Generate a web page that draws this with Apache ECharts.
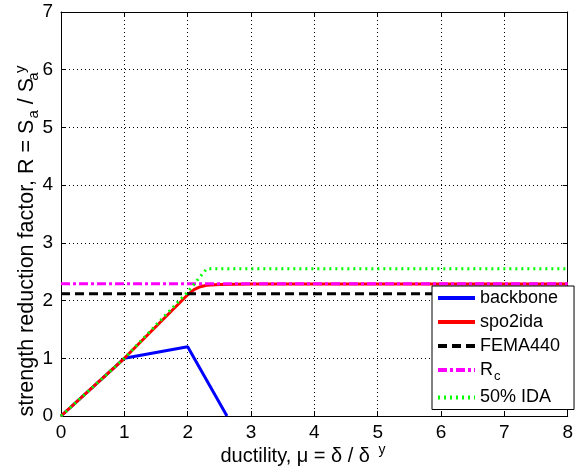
<!DOCTYPE html>
<html>
<head>
  <meta charset="UTF-8">
  <title>strength reduction factor</title>
  <script src="https://cdn.jsdelivr.net/npm/echarts@6/dist/echarts.min.js"></script>
</head>
<body style="margin:0">
  <div id="chart" style="width:576px;height:474px;"></div>
  <script>
    // data
    var backbone = [[0, 0], [1, 1], [2, 1.2], [2.62, 0]];
    var spo2ida = [[0, 0], [1, 1], [1.5, 1.55], [2, 2.1], [2.1, 2.19], [2.2, 2.24], [2.3, 2.265], [2.5, 2.28], [3, 2.285], [8, 2.285]];
    var fema440 = [[0, 2.12], [8, 2.12]];
    var rc = [[0, 2.29], [8, 2.29]];
    var ida50 = [[0, 0], [1, 1], [2, 2.15], [2.3, 2.55], [8, 2.55]];
    var xTicks = [0, 1, 2, 3, 4, 5, 6, 7, 8];
    var yTicks = [0, 1, 2, 3, 4, 5, 6, 7];

    var font = 'Liberation Sans, Arial, sans-serif';
    var chart = echarts.init(document.getElementById('chart'));

    function lineSeries(name, data, color, type, z) {
      return {
        name: name, type: 'line', data: data, showSymbol: false, symbol: 'none',
        lineStyle: { color: color, width: 3, type: type }, itemStyle: { color: color },
        z: z, animation: false
      };
    }

    var axisCommon = {
      type: 'value',
      axisLine: { show: true, onZero: false, lineStyle: { color: '#000', width: 1 } },
      axisTick: { show: true, inside: true, length: 5, lineStyle: { color: '#000' } },
      splitLine: { show: false }
    };

    function richFor(size) {
      var s = Math.round(size * 0.7);
      var off = Math.round(size * 0.6);
      return {
        n: { fontSize: size, fontFamily: font, color: '#000' },
        sub: { fontSize: s, fontFamily: font, color: '#000', padding: [off, 0, 0, 1] },
        sub2: { fontSize: s, fontFamily: font, color: '#000', padding: [off, 0, 0, 1], width: 1 },
        sup: { fontSize: s, fontFamily: font, color: '#000', padding: [0, 0, off, 3] }
      };
    }

    chart.setOption({
      animation: false,
      grid: { left: 61, right: 6, top: 12, bottom: 58 },
      xAxis: [
        Object.assign({}, axisCommon, {
          min: 0, max: 8, interval: 1, position: 'bottom',
          axisLabel: { color: '#000', fontSize: 19, fontFamily: font, margin: 7,
            formatter: function (v) { return xTicks.indexOf(v) >= 0 ? String(v) : ''; } },
          splitLine: { show: true, lineStyle: { color: '#000', type: [1, 3], width: 1 } }
        }),
        Object.assign({}, axisCommon, { min: 0, max: 8, interval: 1, position: 'top', axisLabel: { show: false } })
      ],
      yAxis: [
        Object.assign({}, axisCommon, {
          min: 0, max: 7, interval: 1, position: 'left',
          axisLabel: { color: '#000', fontSize: 19, fontFamily: font, margin: 8,
            formatter: function (v) { return yTicks.indexOf(v) >= 0 ? String(v) : ''; } },
          splitLine: { show: true, lineStyle: { color: '#000', type: [1, 3], width: 1 } }
        }),
        Object.assign({}, axisCommon, { min: 0, max: 7, interval: 1, position: 'right', axisLabel: { show: false } })
      ],
      graphic: [
        {
          type: 'text', x: 303, y: 456, z: 10,
          style: { text: '{n|ductility, μ = δ / δ }{sup|y}', rich: richFor(20), align: 'center', verticalAlign: 'middle' }
        },
        {
          type: 'text', x: 27, y: 241, rotation: Math.PI / 2, z: 10,
          style: { text: '{n|strength reduction factor, R = S}{sub|a}{n| / S}{sub2|a}{sup|y}', rich: richFor(21.5), align: 'center', verticalAlign: 'middle' }
        }
      ],
      legend: {
        left: 432, top: 286, z: 20,
        orient: 'vertical',
        backgroundColor: '#fff', borderColor: '#000', borderWidth: 1, borderRadius: 0,
        padding: [3, 14, 3, 4],
        itemWidth: 37, itemHeight: 14, itemGap: 6,
        itemStyle: { opacity: 0 },
        lineStyle: { width: 4 },
        data: ['backbone', 'spo2ida', 'FEMA440', 'Rc', '50% IDA'],
        formatter: function (name) {
          return name === 'Rc' ? '{n|R}{sub|c}' : '{n|' + name + '}';
        },
        textStyle: {
          rich: {
            n: { fontSize: 18, fontFamily: font, color: '#000' },
            sub: { fontSize: 13, fontFamily: font, color: '#000', padding: [12, 0, 0, 1] }
          }
        }
      },
      series: [
        lineSeries('backbone', backbone, '#0000ff', 'solid', 2),
        lineSeries('spo2ida', spo2ida, '#ff0000', 'solid', 3),
        lineSeries('FEMA440', fema440, '#000000', [9, 5], 4),
        lineSeries('Rc', rc, '#ff00ff', [9, 3, 3, 3], 5),
        lineSeries('50% IDA', ida50, '#00ff00', [2, 4], 6)
      ]
    });
  </script>
</body>
</html>
